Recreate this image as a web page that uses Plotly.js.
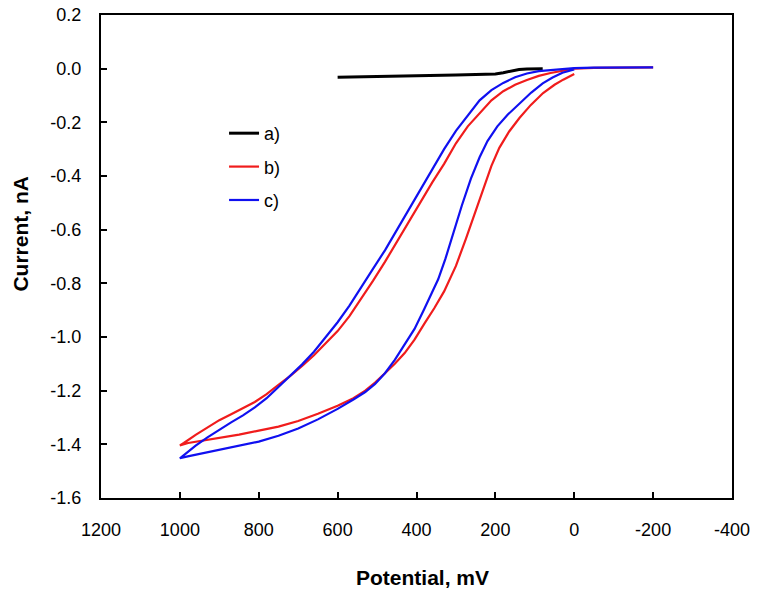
<!DOCTYPE html>
<html>
<head>
<meta charset="utf-8">
<script src="https://cdn.plot.ly/plotly-3.0.1.min.js"></script>
<style>
  html, body { margin: 0; padding: 0; background: #fff; }
  #chart { width: 761px; height: 598px; }
</style>
</head>
<body>
<div id="chart"></div>
<script>
// ---- Data ----
// a) black trace
const potentialA = [600, 550, 500, 400, 300, 250, 200, 180, 160, 140, 120, 100, 80];
const currentA   = [-0.032, -0.030, -0.028, -0.026, -0.024, -0.022, -0.020, -0.015, -0.008, -0.003, -0.001, 0.0, 0.0];

// b) red trace: forward scan -200 -> 1000, then return 1000 -> 0
const potentialB = [-200, -150, -100, -50, 0, 30, 60, 90, 120, 150, 180, 210, 240, 270, 300, 330, 360, 390, 420, 450, 480, 510, 540, 570, 600, 630, 660, 690, 720, 750, 780, 810, 840, 870, 900, 930, 960, 990, 1000,
                    979, 950, 900, 850, 800, 750, 700, 650, 600, 560, 530, 505, 480, 455, 430, 405, 380, 355, 330, 300, 275, 250, 230, 210, 190, 165, 139, 110, 79, 50, 28, 10, 0];
const currentB   = [0.005, 0.005, 0.004, 0.003, 0.0, -0.008, -0.016, -0.027, -0.042, -0.060, -0.084, -0.118, -0.165, -0.215, -0.278, -0.355, -0.424, -0.498, -0.573, -0.648, -0.720, -0.790, -0.858, -0.922, -0.978, -1.025, -1.068, -1.108, -1.145, -1.178, -1.213, -1.242, -1.266, -1.288, -1.310, -1.336, -1.365, -1.395, -1.404,
                    -1.395, -1.388, -1.378, -1.364, -1.349, -1.334, -1.313, -1.286, -1.256, -1.228, -1.200, -1.170, -1.135, -1.100, -1.060, -1.010, -0.950, -0.893, -0.830, -0.735, -0.635, -0.527, -0.442, -0.362, -0.295, -0.234, -0.184, -0.135, -0.091, -0.060, -0.041, -0.028, -0.020];

// c) blue trace: forward scan -200 -> 1000, then return 1000 -> 0
const potentialC = [-200, -150, -100, -50, 0, 30, 60, 90, 120, 150, 180, 210, 240, 270, 300, 330, 360, 390, 420, 450, 480, 510, 540, 570, 600, 630, 660, 690, 720, 750, 780, 810, 840, 870, 900, 930, 960, 990, 1000,
                    980, 950, 900, 850, 800, 750, 700, 650, 600, 560, 530, 505, 480, 455, 430, 405, 380, 360, 345, 327, 305, 285, 262, 240, 220, 195, 169, 140, 109, 80, 55, 30, 10, 0];
const currentC   = [0.005, 0.005, 0.005, 0.004, 0.002, -0.001, -0.004, -0.009, -0.018, -0.032, -0.053, -0.080, -0.118, -0.175, -0.232, -0.300, -0.375, -0.450, -0.525, -0.605, -0.677, -0.745, -0.815, -0.883, -0.945, -1.002, -1.055, -1.102, -1.145, -1.186, -1.228, -1.262, -1.292, -1.318, -1.345, -1.374, -1.405, -1.440, -1.452,
                    -1.445, -1.436, -1.422, -1.407, -1.390, -1.368, -1.341, -1.307, -1.268, -1.233, -1.205, -1.175, -1.135, -1.085, -1.030, -0.970, -0.895, -0.835, -0.785, -0.710, -0.605, -0.510, -0.410, -0.330, -0.270, -0.215, -0.172, -0.130, -0.089, -0.055, -0.033, -0.015, -0.006, -0.003];

const seriesNames = ['a)', 'b)', 'c)'];

const xTickVals = [1200, 1000, 800, 600, 400, 200, 0, -200, -400];
const xTickText = ['1200', '1000', '800', '600', '400', '200', '0', '-200', '-400'];
const yTickVals = [0.2, 0.0, -0.2, -0.4, -0.6, -0.8, -1.0, -1.2, -1.4, -1.6];
const yTickText = ['0.2', '0.0', '-0.2', '-0.4', '-0.6', '-0.8', '-1.0', '-1.2', '-1.4', '-1.6'];

const xTitle = 'Potential, mV';
const yTitle = 'Current, nA';

// ---- Plot ----
const FONT = 'Liberation Sans, Arial, sans-serif';

const traces = [
  { x: potentialA, y: currentA, name: seriesNames[0], legendgroup: 'a', mode: 'lines',
    line: { color: '#000000', width: 3 } },
  { x: potentialB, y: currentB, name: seriesNames[1], legendgroup: 'b', mode: 'lines',
    line: { color: '#f01c1c', width: 2.2 } },
  { x: potentialC, y: currentC, name: seriesNames[2], legendgroup: 'c', mode: 'lines',
    line: { color: '#1010f0', width: 2.2 } }
];

const axisCommon = {
  showline: true, mirror: true, linecolor: '#000', linewidth: 2,
  ticks: 'inside', ticklen: 6, tickwidth: 2, tickcolor: '#000',
  showgrid: false, zeroline: false,
  tickfont: { family: FONT, size: 18, color: '#000' }
};

const layout = {
  width: 761, height: 598,
  margin: { l: 101, r: 29, t: 15, b: 100 },
  paper_bgcolor: '#fff', plot_bgcolor: '#fff',
  font: { family: FONT, color: '#000' },
  showlegend: true,
  legend: {
    x: 0.195, y: 0.793, xanchor: 'left', yanchor: 'top',
    bgcolor: 'rgba(0,0,0,0)', borderwidth: 0,
    font: { family: FONT, size: 18, color: '#000' },
    traceorder: 'grouped', tracegroupgap: 7, itemwidth: 30
  },
  xaxis: Object.assign({}, axisCommon, {
    range: [1200, -400], tickvals: xTickVals, ticktext: xTickText,
    ticklabelstandoff: 14
  }),
  yaxis: Object.assign({}, axisCommon, {
    range: [-1.6, 0.2], tickvals: yTickVals, ticktext: yTickText,
    ticklabelstandoff: 14
  }),
  annotations: [
    { text: '<b>' + xTitle + '</b>', xref: 'paper', yref: 'paper',
      x: 0.51, y: -0.165, xanchor: 'center', yanchor: 'middle', showarrow: false,
      font: { family: FONT, size: 21, color: '#000' } },
    { text: '<b>' + yTitle + '</b>', xref: 'paper', yref: 'paper',
      x: -0.128, y: 0.548, xanchor: 'center', yanchor: 'middle', showarrow: false, textangle: -90,
      font: { family: FONT, size: 21, color: '#000' } }
  ]
};

Plotly.newPlot('chart', traces, layout, { displayModeBar: false, staticPlot: true });
</script>
</body>
</html>
